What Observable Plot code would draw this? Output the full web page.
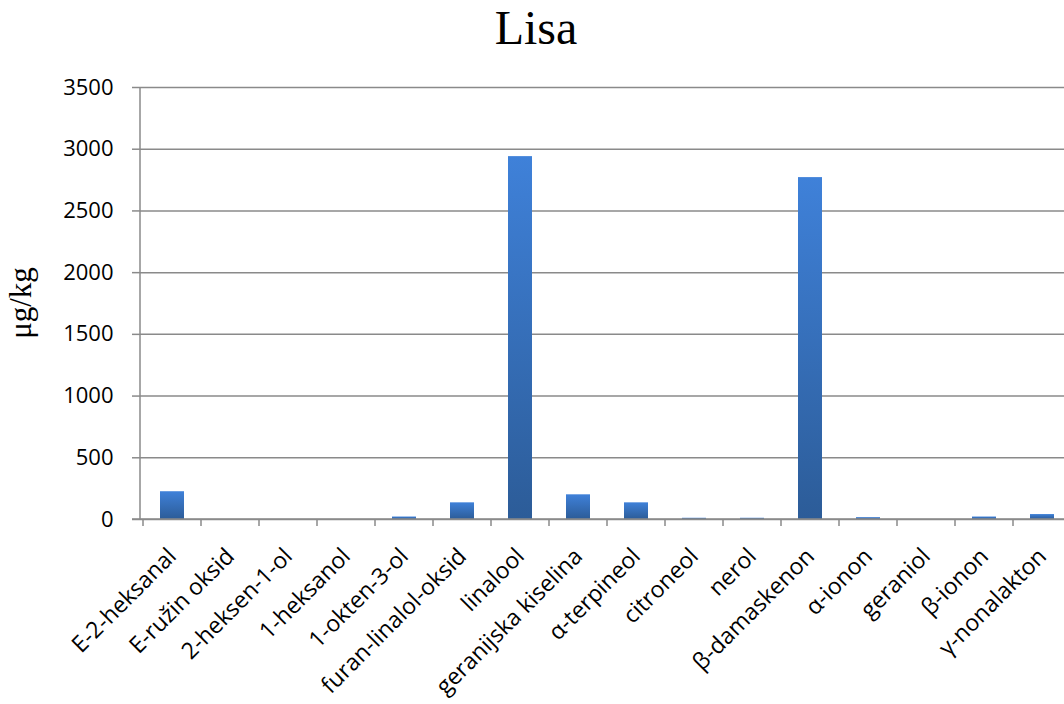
<!DOCTYPE html>
<html>
<head>
<meta charset="utf-8">
<script src="https://cdn.jsdelivr.net/npm/d3@7"></script>
<script src="https://cdn.jsdelivr.net/npm/@observablehq/plot@0.6"></script>
<style>
  html, body { margin: 0; padding: 0; background: #fff; overflow: hidden; }
  #title { width: 1064px; height: 60px; box-sizing: border-box; padding-top: 4px; padding-left: 8px;
           text-align: center; font-family: "Liberation Serif", "Times New Roman", serif; font-size: 48px; line-height: 48px; color: #000; }
</style>
</head>
<body>
<div id="title">Lisa</div>
<div id="chart"></div>
<script>
const categories = ["E-2-heksanal", "E-ružin oksid", "2-heksen-1-ol", "1-heksanol", "1-okten-3-ol",
  "furan-linalol-oksid", "linalool", "geranijska kiselina", "α-terpineol", "citroneol", "nerol",
  "β-damaskenon", "α-ionon", "geraniol", "β-ionon", "γ-nonalakton"];
const values = [225, 0, 0, 0, 20, 135, 2940, 200, 135, 10, 10, 2770, 15, 0, 20, 40];
const yTicks = [0, 500, 1000, 1500, 2000, 2500, 3000, 3500];
const yLabel = "μg/kg";

const data = categories.map((c, i) => ({name: c, value: values[i]}));

const W = 1064, H = 644;
const mL = 140, mT = 27, mB = 185;
const gridColor = "#8a8a8a";
const tickFont = "Open Sans, sans-serif";

const defs = () => {
  const d = d3.create("svg:defs");
  const g = d.append("linearGradient").attr("id", "barGrad").attr("x1", 0).attr("y1", 0).attr("x2", 0).attr("y2", 1);
  g.append("stop").attr("offset", "0%").attr("stop-color", "#3f81d9");
  g.append("stop").attr("offset", "100%").attr("stop-color", "#2c5c98");
  return d.node();
};

const boundaryTicks = (index, scales, values, dims) => {
  const x = scales.x, bw = x.bandwidth(), step = x.step();
  const y0 = dims.height - dims.marginBottom;
  const g = d3.create("svg:g").attr("stroke", gridColor).attr("stroke-width", 1.5);
  const xs = categories.map(c => x(c) - (step - bw) / 2);
  xs.push(xs[xs.length - 1] + step);
  g.selectAll("line").data(xs).join("line")
    .attr("x1", d => d).attr("x2", d => d).attr("y1", y0).attr("y2", y0 + 7);
  g.append("line").attr("x1", dims.marginLeft - 8).attr("x2", dims.width).attr("y1", y0).attr("y2", y0);
  g.append("line").attr("x1", dims.marginLeft).attr("x2", dims.marginLeft).attr("y1", dims.marginTop).attr("y2", y0);
  return g.node();
};

const yTitle = (index, scales, values, dims) => {
  const cy = (dims.marginTop + dims.height - dims.marginBottom) / 2;
  return d3.create("svg:text")
    .attr("transform", `translate(31,${cy}) rotate(-90)`)
    .attr("text-anchor", "middle")
    .attr("font-family", "Liberation Serif, Times New Roman, serif")
    .attr("font-size", 31)
    .attr("fill", "#000")
    .text(yLabel).node();
};

const chart = Plot.plot({
  width: W,
  height: H,
  marginLeft: mL,
  marginRight: 0,
  marginTop: mT,
  marginBottom: mB,
  style: {background: "#fff", overflow: "visible"},
  x: {domain: categories, range: [mL, 1074], paddingInner: 0.59, paddingOuter: 0.295, label: null},
  y: {domain: [0, 3500], label: null},
  marks: [
    defs,
    Plot.gridY(yTicks, {stroke: gridColor, strokeOpacity: 1, strokeWidth: 1.5}),
    Plot.axisY(yTicks, {tickSize: 8, tickPadding: 19, stroke: gridColor, strokeWidth: 1.5, fontSize: 22,
      fontFamily: tickFont, fill: "#000", label: null, tickFormat: d => String(d)}),
    Plot.barY(data, {x: "name", y: "value", fill: "url(#barGrad)"}),
    boundaryTicks,
    Plot.axisX({tickSize: 0, tickRotate: -45, tickPadding: 33, dx: 0, fontSize: 23,
      fontFamily: tickFont, fill: "#000", label: null}),
    yTitle
  ]
});
document.getElementById("chart").appendChild(chart);
</script>
</body>
</html>
